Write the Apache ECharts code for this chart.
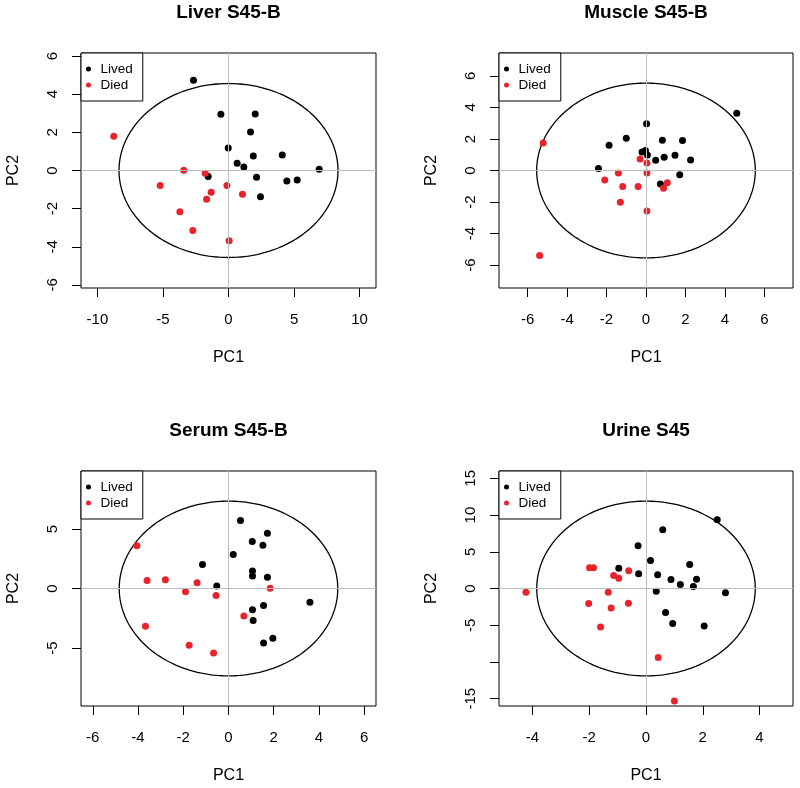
<!DOCTYPE html>
<html><head><meta charset="utf-8">
<script src="https://cdn.jsdelivr.net/npm/echarts@6/dist/echarts.min.js"></script>
<style>html,body{margin:0;padding:0;background:#fff}#c{width:800px;height:788px}</style>
</head><body><div id="c"></div>
<script>
const panelTitles = ['Liver S45-B', 'Muscle S45-B', 'Serum S45-B', 'Urine S45'];
const legendNames = ['Lived', 'Died'];

const liverLived = [[-2.67,4.73],[-0.58,2.95],[2.04,2.96],[1.68,2.02],[-0.02,1.18],[1.89,0.76],[4.1,0.81],[0.66,0.38],[1.17,0.18],[6.92,0.06],[-1.55,-0.32],[2.14,-0.36],[4.45,-0.55],[5.24,-0.5],[2.44,-1.37]];
const liverDied = [[-8.75,1.79],[-3.41,0.01],[-1.78,-0.15],[-5.21,-0.79],[-0.12,-0.79],[-1.32,-1.14],[1.07,-1.25],[-1.67,-1.51],[-3.71,-2.16],[-2.72,-3.15],[0.05,-3.68]];

const muscleLived = [[4.6,3.63],[0.03,2.96],[-1.0,2.05],[0.83,1.92],[1.85,1.91],[-1.87,1.6],[-0.2,1.17],[-0.03,1.27],[0.07,0.98],[1.47,0.97],[0.92,0.84],[0.49,0.65],[2.26,0.67],[-2.41,0.13],[1.71,-0.27],[0.73,-0.85],[5.65,-7.6]];
const muscleDied = [[-5.21,1.75],[-0.3,0.73],[0.05,0.48],[-1.4,-0.16],[0.05,-0.16],[-2.09,-0.6],[-1.18,-1.02],[-0.4,-1.02],[1.08,-0.77],[0.89,-1.13],[-1.3,-2.02],[0.05,-2.57],[-5.39,-5.39]];

const serumLived = [[0.53,5.71],[1.72,4.65],[1.05,3.95],[1.52,3.64],[0.21,2.86],[-1.15,2.02],[1.06,1.46],[1.06,1.06],[1.72,0.95],[-0.52,0.2],[3.6,-1.15],[1.55,-1.43],[1.06,-1.79],[1.09,-2.69],[1.96,-4.17],[1.55,-4.57]];
const serumDied = [[-4.05,3.59],[-3.6,0.67],[-2.79,0.73],[-1.39,0.48],[-1.9,-0.28],[-0.55,-0.59],[1.84,0.03],[0.68,-2.32],[-3.67,-3.17],[-1.74,-4.76],[-0.66,-5.41]];

const urineLived = [[2.51,9.36],[0.59,8.0],[-0.28,5.82],[0.16,3.82],[1.54,3.27],[-0.96,2.77],[-0.26,2.0],[0.41,1.86],[0.88,1.23],[1.78,1.27],[1.21,0.55],[1.67,0.27],[0.36,-0.36],[2.8,-0.59],[0.69,-3.27],[0.94,-4.77],[2.05,-5.09]];
const urineDied = [[-4.23,-0.5],[-1.99,2.82],[-1.85,2.82],[-1.14,1.77],[-0.96,1.41],[-0.61,2.41],[-1.33,-0.5],[-2.02,-2.05],[-0.62,-2.0],[-1.23,-2.64],[-1.6,-5.23],[0.43,-9.41],[1.0,-15.32]];

const livedSets = [liverLived, muscleLived, serumLived, urineLived];
const diedSets = [liverDied, muscleDied, serumDied, urineDied];

const ellipseA = [8.35, 5.54, 4.83, 3.85];
const ellipseB = [4.56, 5.54, 7.34, 11.9];

const xMin = [-11.25, -7.45, -6.52, -5.18];
const xMax = [11.25, 7.45, 6.52, 5.18];
const yMin = [-6.16, -7.45, -9.87, -16];
const yMax = [6.16, 7.45, 9.87, 16];

const xTicks = [[-10,-5,0,5,10],[-6,-4,-2,0,2,4,6],[-6,-4,-2,0,2,4,6],[-4,-2,0,2,4]];
const yTicks = [[-6,-4,-2,0,2,4,6],[-6,-4,-2,0,2,4,6],[-5,0,5],[-15,-10,-5,0,5,10,15]];
const yTickLabels = [[-6,-4,-2,0,2,4,6],[-6,-4,-2,0,2,4,6],[-5,0,5],[-15,-5,0,5,10,15]];

const FONT = 'Liberation Sans, Arial, Helvetica, sans-serif';
const BLACK = '#000000';
const RED = '#e8232b';

const gridBoxes = [
  {left: 81, top: 53, width: 295, height: 235},
  {left: 499, top: 53, width: 294, height: 235},
  {left: 81, top: 471, width: 295, height: 235},
  {left: 499, top: 471, width: 294, height: 235}
];
const titleTops = [3, 3, 421, 421];

function ellipsePoints(a, b) {
  const pts = [];
  const n = 240;
  for (let i = 0; i <= n; i++) {
    const t = 2 * Math.PI * i / n;
    pts.push([a * Math.cos(t), b * Math.sin(t)]);
  }
  return pts;
}

const option = {
  animation: false,
  textStyle: {fontFamily: FONT},
  title: [], grid: [], xAxis: [], yAxis: [], legend: [], series: []
};

for (let i = 0; i < 4; i++) {
  const g = gridBoxes[i];
  option.title.push({
    text: panelTitles[i], left: g.left + g.width / 2, top: titleTops[i],
    textAlign: 'center', padding: 0,
    textStyle: {fontSize: 19, fontWeight: 'bold', color: BLACK, fontFamily: FONT}
  });
  option.grid.push({
    left: g.left, top: g.top, width: g.width, height: g.height,
    show: true, borderColor: BLACK, borderWidth: 1, backgroundColor: 'transparent'
  });
  option.xAxis.push({
    type: 'value', gridIndex: i, min: xMin[i], max: xMax[i], position: 'bottom',
    name: 'PC1', nameLocation: 'middle', nameGap: 62,
    nameTextStyle: {fontSize: 16, color: BLACK, fontFamily: FONT},
    axisLine: {show: false, onZero: false},
    splitLine: {show: false},
    axisTick: {show: true, inside: false, length: 9, customValues: xTicks[i], lineStyle: {color: BLACK, width: 1}},
    axisLabel: {show: true, customValues: xTicks[i], margin: 24, fontSize: 15, color: BLACK, fontFamily: FONT}
  });
  option.yAxis.push({
    type: 'value', gridIndex: i, min: yMin[i], max: yMax[i], position: 'left',
    name: 'PC2', nameLocation: 'middle', nameGap: 59,
    nameTextStyle: {fontSize: 16, color: BLACK, fontFamily: FONT},
    axisLine: {show: false, onZero: false},
    splitLine: {show: false},
    axisTick: {show: true, inside: false, length: 9, customValues: yTicks[i], lineStyle: {color: BLACK, width: 1}},
    axisLabel: {show: true, customValues: yTickLabels[i], rotate: 90, margin: 21, fontSize: 15, color: BLACK, fontFamily: FONT}
  });
  option.legend.push({
    left: g.left, top: g.top, orient: 'vertical',
    data: legendNames.map(n => ({name: n})),
    icon: 'circle', itemWidth: 14, itemHeight: 5, itemGap: 0,
    padding: [8, 10, 8, 5],
    borderColor: BLACK, borderWidth: 1, borderRadius: 0, backgroundColor: '#fff',
    selectedMode: false,
    textStyle: {fontSize: 13.5, color: BLACK, lineHeight: 16, fontFamily: FONT}
  });
  option.series.push({
    type: 'line', name: 'ellipse' + i, xAxisIndex: i, yAxisIndex: i,
    data: ellipsePoints(ellipseA[i], ellipseB[i]),
    showSymbol: false, symbol: 'none', smooth: false, silent: true, z: 1,
    lineStyle: {color: BLACK, width: 1.3},
    markLine: {
      silent: true, symbol: ['none', 'none'], label: {show: false},
      lineStyle: {color: '#bdbdbd', type: 'solid', width: 1},
      data: [{xAxis: 0}, {yAxis: 0}]
    }
  });
  option.series.push({
    type: 'scatter', name: 'Lived', xAxisIndex: i, yAxisIndex: i,
    data: livedSets[i], symbolSize: 7, z: 3,
    itemStyle: {color: BLACK, opacity: 1}
  });
  option.series.push({
    type: 'scatter', name: 'Died', xAxisIndex: i, yAxisIndex: i,
    data: diedSets[i], symbolSize: 7, z: 3,
    itemStyle: {color: RED, opacity: 1}
  });
}

const chart = echarts.init(document.getElementById('c'), null, {renderer: 'canvas'});
chart.setOption(option);
</script>
</body></html>
